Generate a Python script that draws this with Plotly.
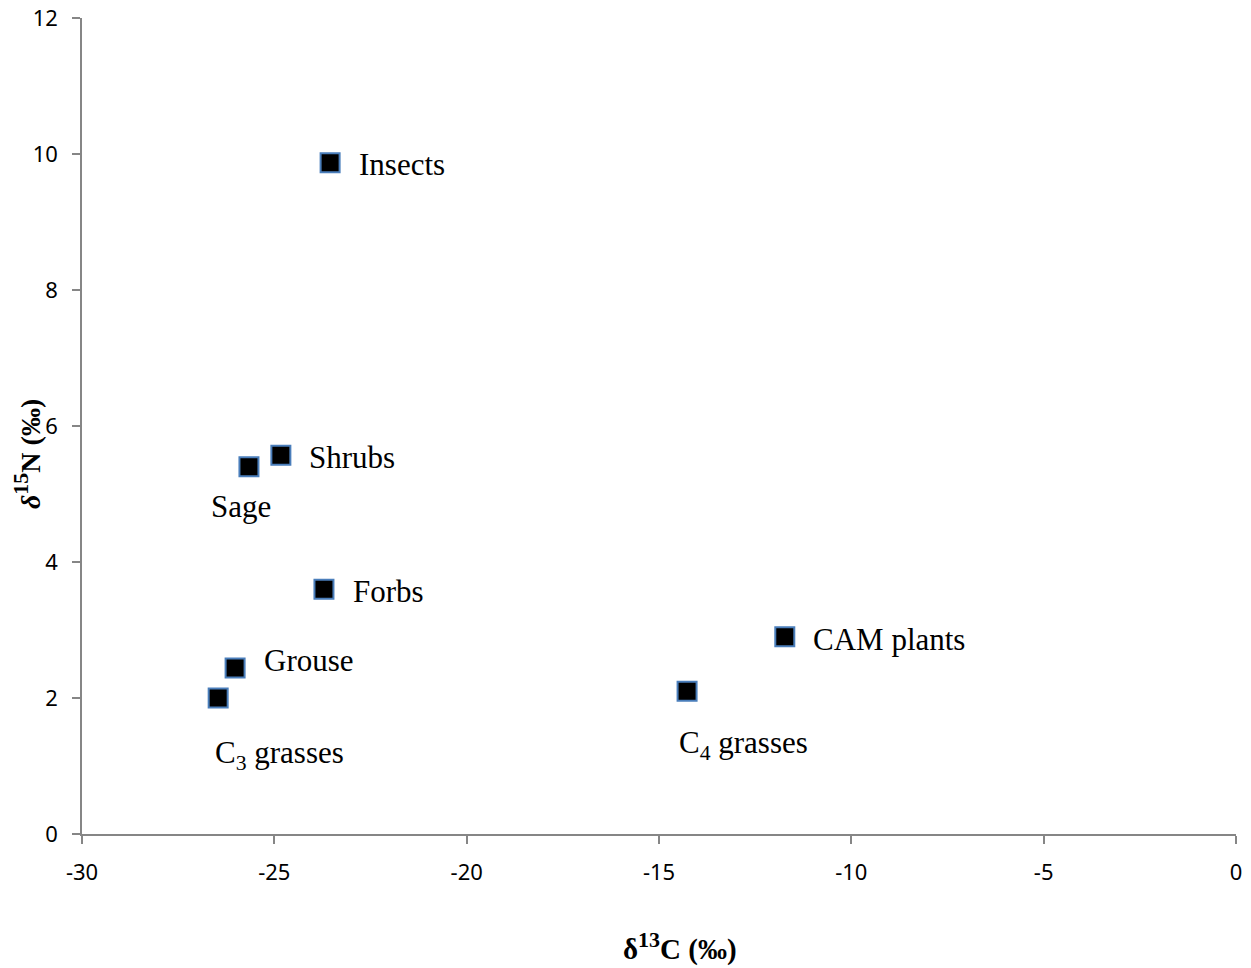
import plotly.graph_objects as go

# Stable isotope values (‰) for sage-grouse and dietary sources
groups = ["Insects", "Shrubs", "Sage", "Forbs", "CAM plants", "C<sub>4</sub> grasses", "Grouse", "C<sub>3</sub> grasses"]
d13c = [-23.55, -24.83, -25.66, -23.71, -11.73, -14.27, -26.02, -26.46]
d15n = [9.87, 5.57, 5.40, 3.60, 2.90, 2.10, 2.44, 2.00]

x_ticks = [-30, -25, -20, -15, -10, -5, 0]
y_ticks = [0, 2, 4, 6, 8, 10, 12]

# label placement (pixel offsets from each marker, anchor)
label_dx = [27, 26, -8, 27, 26, -10, 27, -5]
label_dy = [-2, -2, -40, -2, -3, -54, 8, -57]
label_anchor = ["left", "left", "center", "left", "left", "left", "left", "left"]

W, H = 1251, 968
ML, MR, MT, MB = 82, 15, 18, 134
pw, ph = W - ML - MR, H - MT - MB

fig = go.Figure()
fig.add_trace(go.Scatter(
    x=d13c, y=d15n, mode="markers",
    marker=dict(symbol="square", size=19, color="black",
                line=dict(color="#4a7ebb", width=2)),
    showlegend=False, hoverinfo="skip",
))

for name, x, y, dx, dy, anc in zip(groups, d13c, d15n, label_dx, label_dy, label_anchor):
    fig.add_annotation(
        x=x, y=y, xref="x", yref="y", text=name, showarrow=False,
        xanchor=anc, yanchor="middle", xshift=dx, yshift=dy,
        font=dict(family="Liberation Serif", size=31, color="black"),
    )

axis_common = dict(
    showgrid=False, zeroline=False, showline=True, linecolor="#868686", linewidth=1.5,
    ticks="outside", ticklen=8, tickcolor="#868686", tickwidth=1.5,
    tickfont=dict(family="Noto Sans", size=22, color="black"),
    automargin=False, ticklabelstandoff=10,
)

fig.update_xaxes(range=[-30, 0], tickvals=x_ticks,
                 ticktext=[str(v) for v in x_ticks], **axis_common)
fig.update_yaxes(range=[0, 12], tickvals=y_ticks,
                 ticktext=[str(v) for v in y_ticks], **axis_common)

# axis titles, positioned in pixels relative to the plot area
sup = "<sup><span style='font-size:22px'>{}</span></sup>"
fig.add_annotation(
    x=(680 - ML) / pw, y=(H - MB - 946) / ph, xref="paper", yref="paper",
    xanchor="center", yanchor="middle", showarrow=False,
    text="<b>δ" + sup.format("13") + "C (‰)</b>",
    font=dict(family="Liberation Serif", size=29, color="black"),
)
fig.add_annotation(
    x=(27 - ML) / pw, y=(H - MB - 454) / ph, xref="paper", yref="paper",
    xanchor="center", yanchor="middle", showarrow=False,
    text="<b><i>δ</i>" + sup.format("15") + "N (‰)</b>", textangle=-90,
    font=dict(family="Liberation Serif", size=28, color="black"),
)

fig.update_layout(
    width=W, height=H,
    margin=dict(l=ML, r=MR, t=MT, b=MB),
    paper_bgcolor="white", plot_bgcolor="white",
)

fig.write_html("out.html")
